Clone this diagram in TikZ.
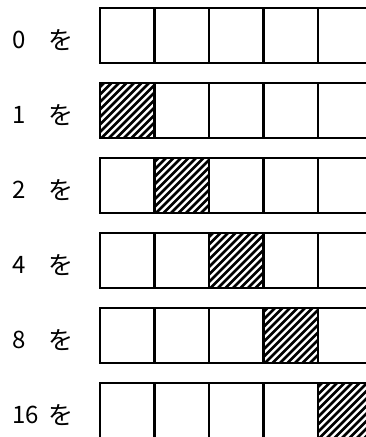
\documentclass[tikz,border=0pt]{standalone}
\usepackage{fontspec}
\newfontfamily\jpfont{Noto Sans CJK JP}

\begin{document}
\begin{tikzpicture}[
    x=1pt, y=1pt,
    cellbox/.style={rectangle, draw=black, line width=2.2pt, minimum width=54.5pt, minimum height=55pt, inner sep=0pt, outer sep=0pt},
    hatched/.style={cellbox, path picture={
        \foreach \k in {-66,-58.5,...,60}
          \draw[line width=2.8pt] ([xshift=\k pt]path picture bounding box.south west) -- ++(62pt,62pt);
    }},
    numlabel/.style={anchor=west, inner sep=0pt, font=\jpfont\fontsize{24}{24}\selectfont},
    wolabel/.style={inner sep=0pt, font=\jpfont\fontsize{25}{25}\selectfont},
]

% Page frame (the picture is cut at the right and bottom edges)
\useasboundingbox (0,0) rectangle (366,437);
\clip (0,0) rectangle (366,437);

% Rows: row / number / hatched cell (0 = none)
\foreach \r/\n/\h in {0/0/0, 1/1/1, 2/2/2, 3/4/3, 4/8/4, 5/16/5} {
  % Label
  \node[numlabel] (num\r) at (12,397-75*\r) {\n};
  \node[wolabel] (wo\r) at (61,397-75*\r) {を};
  % Five cells
  \foreach \c in {1,...,5} {
    \ifnum\c=\h
      \node[hatched] (cell\r\c) at (100+54.5*\c-27.25,401.5-75*\r) {};
    \else
      \node[cellbox] (cell\r\c) at (100+54.5*\c-27.25,401.5-75*\r) {};
    \fi
  }
}

\end{tikzpicture}
\end{document}
